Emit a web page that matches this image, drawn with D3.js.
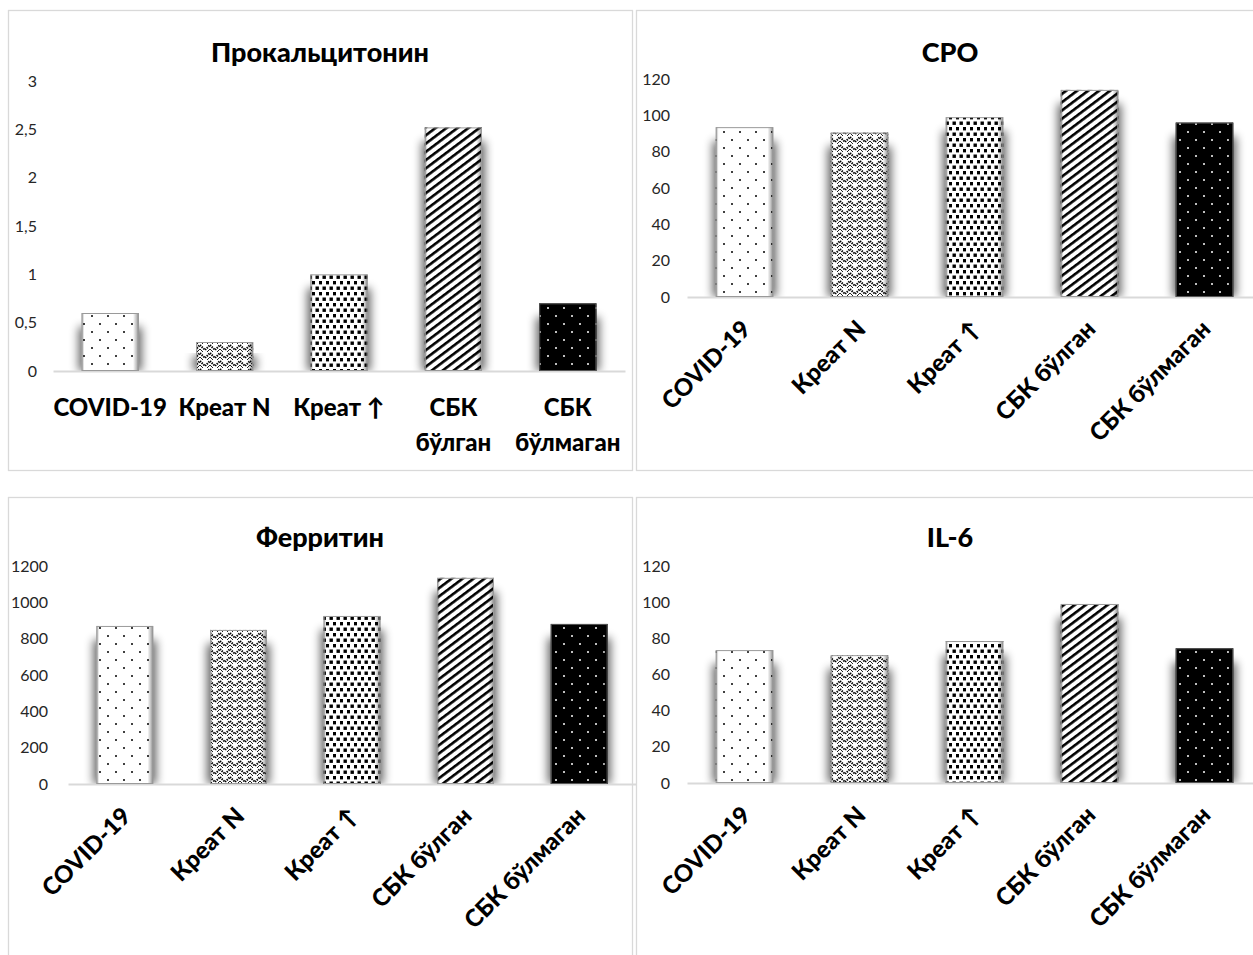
<!DOCTYPE html>
<html>
<head>
<meta charset="utf-8">
<script src="https://cdn.jsdelivr.net/npm/d3@7"></script>
<style>
  body { margin: 0; background: #fff; }
  svg { display: block; }
  .tick text { font-family: Lato, 'Noto Sans', sans-serif; }
</style>
</head>
<body>
<div id="viz"></div>
<script>
// chart values
const categories = ['COVID-19', 'Креат N', 'Креат ↑', 'СБК бўлган', 'СБК бўлмаган'];
const procalcitonin = [0.6, 0.3, 1.0, 2.52, 0.7];
const cro = [93.5, 90.5, 99, 114, 96];
const ferritin = [870, 848, 925, 1135, 881];
const il6 = [73.5, 70.7, 78.5, 99, 74.5];
const titles = ['Прокальцитонин', 'СРО', 'Ферритин', 'IL-6'];
const yMax = [3, 120, 1200, 120];

const width = 1253;
const height = 955;
const font = "Lato, 'Noto Sans', sans-serif";

let svg = d3.select('#viz')
            .append('svg')
            .attr('width', width)
            .attr('height', height);

// fill patterns, one per category
const defs = svg.append('defs');
function dotPattern(id, bg, dot) {
    let p = defs.append('pattern').attr('id', id)
                .attr('patternUnits', 'userSpaceOnUse')
                .attr('width', 16).attr('height', 16);
    p.append('rect').attr('width', 16).attr('height', 16).attr('fill', bg);
    p.append('circle').attr('cx', 4).attr('cy', 4).attr('r', 1).attr('fill', dot);
    p.append('circle').attr('cx', 12).attr('cy', 12).attr('r', 1).attr('fill', dot);
}
dotPattern('pat0', '#fff', '#000');
dotPattern('pat4', '#000', '#fff');

let zig = defs.append('pattern').attr('id', 'pat1')
              .attr('patternUnits', 'userSpaceOnUse')
              .attr('width', 10).attr('height', 8);
zig.append('rect').attr('width', 10).attr('height', 8).attr('fill', '#fff');
zig.append('path').attr('d', 'M0,1 L5,6 L10,1')
   .attr('fill', 'none').attr('stroke', '#000').attr('stroke-width', 2)
   .attr('stroke-dasharray', '1.4,1');
zig.append('path').attr('d', 'M0,5 L3,8 M7,8 L10,5')
   .attr('fill', 'none').attr('stroke', '#222').attr('stroke-width', 1);

let sq = defs.append('pattern').attr('id', 'pat2')
             .attr('patternUnits', 'userSpaceOnUse')
             .attr('width', 7).attr('height', 11);
sq.append('rect').attr('width', 7).attr('height', 11).attr('fill', '#fff');
sq.append('rect').attr('x', 0.5).attr('y', 0.5).attr('width', 3.4).attr('height', 3.4).attr('fill', '#000');
sq.append('rect').attr('x', 4).attr('y', 6).attr('width', 3.4).attr('height', 3.4).attr('fill', '#000');

let stripe = defs.append('pattern').attr('id', 'pat3')
                 .attr('patternUnits', 'userSpaceOnUse')
                 .attr('width', 10).attr('height', 6.6)
                 .attr('patternTransform', 'rotate(-37)');
stripe.append('rect').attr('width', 10).attr('height', 6.6).attr('fill', '#fff');
stripe.append('rect').attr('width', 10).attr('height', 2.6).attr('fill', '#000');

// soft shadow and bevel
let f = defs.append('filter').attr('id', 'blur')
            .attr('x', '-60%').attr('y', '-20%').attr('width', '220%').attr('height', '140%');
f.append('feGaussianBlur').attr('stdDeviation', 5);

let gh = defs.append('linearGradient').attr('id', 'bevelH');
[[0, 0.35], [0.05, 0], [0.9, 0], [0.96, 0.25], [1, 0.5]].forEach(s => {
    gh.append('stop').attr('offset', s[0]).attr('stop-color', '#000').attr('stop-opacity', s[1]);
});

const panels = [
    {values: procalcitonin, box: [8, 10, 624, 460], axisY: 371, topY: 81, x0: 53, x1: 625, tickX: 37, titleX: 320, titleY: 62, rotate: false},
    {values: cro, box: [636, 10, 630, 460], axisY: 297, topY: 79, x0: 687, x1: 1262, tickX: 670, titleX: 950, titleY: 62, rotate: true},
    {values: ferritin, box: [8, 497, 624, 470], axisY: 784, topY: 566, x0: 68, x1: 636, tickX: 48, titleX: 320, titleY: 547, rotate: true},
    {values: il6, box: [636, 497, 630, 470], axisY: 783, topY: 566, x0: 687, x1: 1262, tickX: 670, titleX: 950, titleY: 547, rotate: true}
];

panels.forEach((p, k) => {
    let g = svg.append('g');
    g.append('rect')
     .attr('x', p.box[0] + 0.5).attr('y', p.box[1] + 0.5)
     .attr('width', p.box[2]).attr('height', p.box[3])
     .attr('fill', '#fff').attr('stroke', '#d9d9d9').attr('stroke-width', 1.3);

    g.append('text')
     .attr('x', p.titleX).attr('y', p.titleY)
     .attr('text-anchor', 'middle')
     .style('font-family', font).style('font-weight', 900).style('font-size', '27px')
     .text(titles[k]);

    let xScale = d3.scaleBand().domain(categories).range([p.x0, p.x1]).paddingInner(0.5).paddingOuter(0.25);
    let yScale = d3.scaleLinear().domain([0, yMax[k]]).range([p.axisY, p.topY]);

    let yAxis = d3.axisLeft(yScale).ticks(6).tickSize(0).tickPadding(0)
                  .tickFormat(d => String(d).replace('.', ','));
    let ya = g.append('g').attr('transform', 'translate(' + p.tickX + ',0)').call(yAxis);
    ya.select('.domain').remove();
    ya.selectAll('text').style('font-size', '16px').attr('fill', '#262626');

    // clip so shadows stay above the axis
    let clipId = 'clip' + k;
    defs.append('clipPath').attr('id', clipId)
        .append('rect').attr('x', p.box[0]).attr('y', p.box[1])
        .attr('width', p.box[2]).attr('height', p.axisY - p.box[1]);

    g.append('g').attr('clip-path', 'url(#' + clipId + ')')
     .selectAll('rect')
     .data(p.values)
     .enter()
     .append('rect')
     .attr('x', (d, i) => xScale(categories[i]) - 3)
     .attr('y', d => yScale(d) + 14)
     .attr('width', xScale.bandwidth() + 6)
     .attr('height', d => Math.max(0, p.axisY - yScale(d) - 14))
     .attr('fill', '#000').attr('opacity', 0.6)
     .attr('filter', 'url(#blur)');

    let xAxis = d3.axisBottom(xScale).tickSize(0).tickSizeOuter(0).tickFormat('');
    let xa = g.append('g').attr('transform', 'translate(0,' + p.axisY + ')').call(xAxis);
    xa.select('.domain').attr('stroke', '#d9d9d9').attr('stroke-width', 2.2);

    let bars = g.selectAll('.bar')
                .data(p.values)
                .enter()
                .append('g')
                .attr('class', 'bar');
    bars.append('rect')
        .attr('x', (d, i) => xScale(categories[i]))
        .attr('y', d => yScale(d))
        .attr('width', xScale.bandwidth())
        .attr('height', d => p.axisY - yScale(d))
        .attr('fill', (d, i) => 'url(#pat' + i + ')');
    bars.append('rect')
        .attr('x', (d, i) => xScale(categories[i]))
        .attr('y', d => yScale(d))
        .attr('width', xScale.bandwidth())
        .attr('height', d => p.axisY - yScale(d))
        .attr('fill', 'url(#bevelH)');
    bars.append('rect')
        .attr('x', (d, i) => xScale(categories[i]) + 0.5)
        .attr('y', d => yScale(d) + 0.5)
        .attr('width', xScale.bandwidth() - 1)
        .attr('height', d => p.axisY - yScale(d) - 1)
        .attr('fill', 'none')
        .attr('stroke', (d, i) => i === 4 ? '#555' : '#9a9a9a')
        .attr('stroke-width', 1);

    let labels = g.append('g').selectAll('text')
                  .data(categories)
                  .enter()
                  .append('text')
                  .style('font-family', font).style('font-weight', 900).style('font-size', '24px')
                  .attr('fill', '#000');
    if (p.rotate) {
        labels.attr('text-anchor', 'end')
              .attr('dominant-baseline', 'hanging')
              .attr('transform', d => 'translate(' + (xScale(d) + xScale.bandwidth() / 2 - 6) + ',' + (p.axisY + 20) + ') rotate(-45)')
              .text(d => d);
    } else {
        labels.attr('text-anchor', 'middle')
              .attr('x', d => xScale(d) + xScale.bandwidth() / 2)
              .attr('y', p.axisY + 45)
              .each(function(d) {
                  let parts = d.length > 8 ? [d.slice(0, d.indexOf(' ')), d.slice(d.indexOf(' ') + 1)] : [d];
                  let t = d3.select(this);
                  parts.forEach((s, j) => {
                      t.append('tspan')
                       .attr('x', xScale(d) + xScale.bandwidth() / 2)
                       .attr('dy', j === 0 ? 0 : 35)
                       .text(s);
                  });
              });
    }
});
</script>
</body>
</html>
